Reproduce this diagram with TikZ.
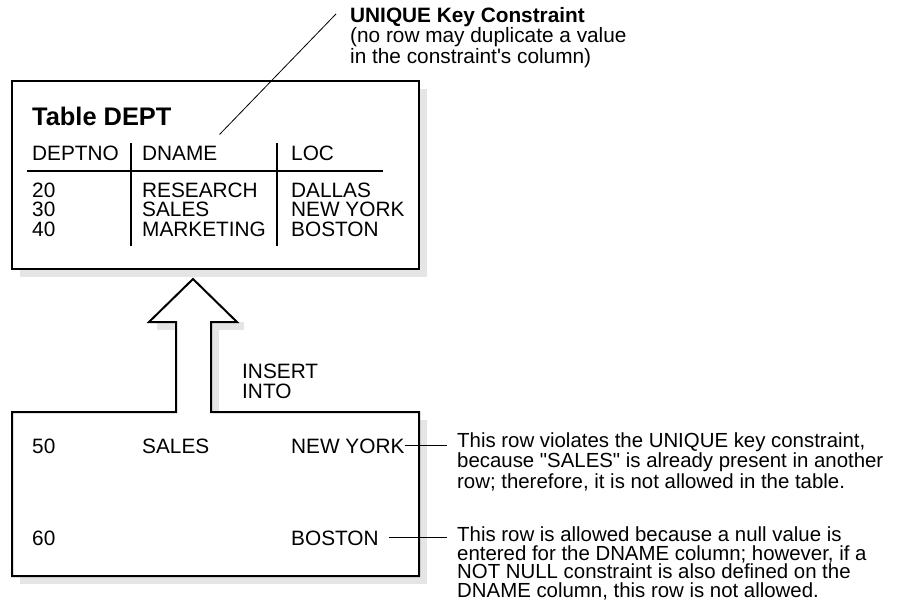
\documentclass[tikz,border=0pt]{standalone}
\usepackage{fontspec}
\setmainfont{Liberation Sans}
\begin{document}
\begin{tikzpicture}[x = 1pt, y = -1pt,
    txt/.style = {anchor = base west, inner sep = 0pt, align = left,
                  font = \fontsize{20.8}{19.5}\selectfont},
    note/.style = {txt, font = \fontsize{20.4}{18.5}\selectfont},
    shadow/.style = {fill = black!10, draw = none},
    frame/.style = {line width = 2pt, line join = miter}]
      \useasboundingbox (0,0) rectangle (910,605);
      % table DEPT (multi-line nodes sit on their last baseline)
      \fill [shadow] (20,89) rectangle (427,277);
      \draw [frame, fill = white] (12,81) rectangle (419,269);
      \node [txt, font = \fontsize{25.4}{30}\selectfont\bfseries]
        (title) at (32,125) {Table DEPT};
      \node [txt] (hdeptno) at (32,160) {DEPTNO};
      \node [txt] (hdname) at (142,160) {DNAME};
      \node [txt] (hloc) at (291,160) {LOC};
      \draw [line width = 2pt] (27,171) -- (383,171);
      \draw [line width = 2pt] (131,143) -- (131,246);
      \draw [line width = 2pt] (277,143) -- (277,246);
      \node [txt] (cdeptno) at (32,236) {20\\30\\40};
      \node [txt] (cdname) at (142,236) {RESEARCH\\SALES\\MARKETING};
      \node [txt] (cloc) at (291,236) {DALLAS\\NEW YORK\\BOSTON};
      % unique key note
      \node [txt, font = \fontsize{20.8}{19}\selectfont] (uniq) at (350,63)
        {\textbf{UNIQUE Key Constraint}\\(no row may duplicate a value\\in the constraint\textquotesingle s column)};
      \draw [line width = .8pt] ([shift = {(2,-11)}]hdname.north east)
        -- ([shift = {(-14,7)}]uniq.north west);
      % new rows and arrow
      \fill [shadow] (20,420) rectangle (427,584);
      \fill [shadow] (211,322) rectangle (219,412);
      \fill [shadow] (157,322) rectangle (176,330);
      \fill [shadow] (219,322) rectangle (244,330);
      \draw [frame, fill = white] (211,412) -- (419,412) -- (419,576)
        -- (12,576) -- (12,412) -- (176,412) -- (176,322) -- (149,322)
        -- (193,279) -- (237,322) -- (211,322) -- cycle;
      \node [txt] (insert) at (242,398) {INSERT\\INTO};
      \node [txt] (n50) at (32,453) {50};
      \node [txt] (sales) at (142,453) {SALES};
      \node [txt] (ny) at (291,453) {NEW YORK};
      \node [txt] (n60) at (32,545) {60};
      \node [txt] (boston) at (291,545) {BOSTON};
      % notes on the rows
      \coordinate (lead) at (447,0);
      \node [note] (viol) at (457,488)
        {This row violates the UNIQUE key constraint,\\because \textquotedbl SALES\textquotedbl{} is already present in another\\row; therefore, it is not allowed in the table.};
      \node [note] (allow) at (457,597)
        {This row is allowed because a null value is\\entered for the DNAME column; however, if a\\NOT NULL constraint is also defined on the\\DNAME column, this row is not allowed.};
      \draw [line width = .8pt] (ny.east) -- (ny.east -| lead);
      \draw [line width = .8pt] ([xshift = 10pt]boston.east) -- (boston.east -| lead);
    \end{tikzpicture}
\end{document}
